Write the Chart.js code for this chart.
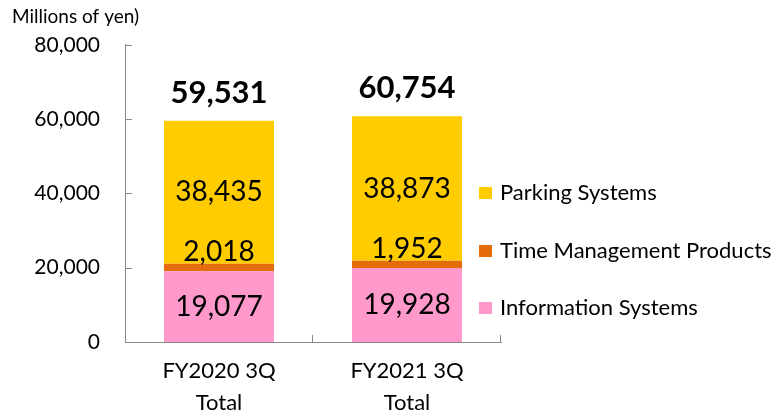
<!DOCTYPE html>
<html>
<head>
<meta charset="utf-8">
<script src="https://cdn.jsdelivr.net/npm/chart.js@4"></script>
<style>
  html, body { margin: 0; padding: 0; background: #fff; }
  #wrap { width: 778px; height: 413px; }
</style>
</head>
<body>
<div id="wrap"><canvas id="chart" width="778" height="413"></canvas></div>
<script>
const categories = [['FY2020 3Q', 'Total'], ['FY2021 3Q', 'Total']];
const infoSystems = [19077, 19928];
const timeProducts = [2018, 1952];
const parkingSystems = [38435, 38873];
const totals = [59531, 60754];
const yTicks = [0, 20000, 40000, 60000, 80000];

const FONT = 'Lato, "Noto Sans", sans-serif';
const fmt = v => v.toLocaleString('en-US');

// value labels, totals, inward tick marks and the legend
const labelPlugin = {
    id: 'labels',
    afterDatasetsDraw(chart) {
        const ctx = chart.ctx;
        ctx.save();
        ctx.fillStyle = '#000';
        ctx.textAlign = 'center';
        chart.data.datasets.forEach((ds, di) => {
            const meta = chart.getDatasetMeta(di);
            meta.data.forEach((bar, i) => {
                ctx.font = '28px ' + FONT;
                if (ds.label === 'Time Management Products') {
                    ctx.textBaseline = 'bottom';
                    ctx.fillText(fmt(ds.data[i]), bar.x, bar.y + 2);
                } else {
                    ctx.textBaseline = 'middle';
                    ctx.fillText(fmt(ds.data[i]), bar.x, (bar.y + bar.base) / 2);
                }
            });
        });
        const topMeta = chart.getDatasetMeta(chart.data.datasets.length - 1);
        ctx.font = 'bold 31px ' + FONT;
        ctx.textBaseline = 'alphabetic';
        topMeta.data.forEach((bar, i) => {
            ctx.fillText(fmt(totals[i]), bar.x, bar.y - 18);
        });

        // tick marks pointing into the plot
        const x = chart.scales.x, y = chart.scales.y;
        ctx.strokeStyle = '#898989';
        ctx.lineWidth = 1;
        ctx.beginPath();
        yTicks.forEach(v => {
            const py = Math.round(y.getPixelForValue(v)) + 0.5;
            ctx.moveTo(x.left, py);
            ctx.lineTo(x.left + 7, py);
        });
        for (let i = 1; i <= categories.length; i++) {
            const px = Math.round(x.left + (x.right - x.left) * i / categories.length) - 0.5;
            ctx.moveTo(px, y.bottom);
            ctx.lineTo(px, y.bottom - 7);
        }
        ctx.stroke();

        // legend, top dataset first
        const rows = [193, 251, 308];
        const sets = chart.data.datasets.slice().reverse();
        ctx.font = '22px ' + FONT;
        ctx.textAlign = 'left';
        ctx.textBaseline = 'middle';
        sets.forEach((ds, i) => {
            ctx.fillStyle = ds.backgroundColor;
            ctx.fillRect(479, rows[i] - 6, 13, 12);
            ctx.fillStyle = '#000';
            ctx.fillText(ds.label, 500, rows[i]);
        });
        ctx.restore();
    }
};

new Chart(document.getElementById('chart'), {
    type: 'bar',
    data: {
        labels: categories,
        datasets: [
            { label: 'Information Systems', data: infoSystems, backgroundColor: '#FF99CC' },
            { label: 'Time Management Products', data: timeProducts, backgroundColor: '#E46C0A' },
            { label: 'Parking Systems', data: parkingSystems, backgroundColor: '#FFCC00' }
        ]
    },
    options: {
        responsive: false,
        animation: false,
        layout: { padding: { left: 12, right: 277, top: 0, bottom: 0 } },
        datasets: {
            bar: { categoryPercentage: 1, barPercentage: 0.585 }
        },
        plugins: {
            legend: { display: false },
            tooltip: { enabled: false },
            title: {
                display: true,
                text: 'Millions of yen)',
                align: 'start',
                color: '#000',
                font: { family: FONT, size: 19, weight: 'normal' },
                padding: { top: 5, bottom: 17 }
            }
        },
        scales: {
            x: {
                stacked: true,
                grid: { display: false },
                border: { color: '#898989', width: 1 },
                ticks: {
                    color: '#000',
                    padding: 5,
                    font: { family: FONT, size: 22, lineHeight: 1.45 }
                },
                afterFit: s => { s.height = 71; }
            },
            y: {
                stacked: true,
                min: 0,
                max: 80000,
                grid: { display: false },
                border: { color: '#898989', width: 1 },
                afterFit: s => { s.width = 113; },
                afterBuildTicks: s => { s.ticks = yTicks.map(v => ({ value: v })); },
                ticks: {
                    color: '#000',
                    padding: 17,
                    font: { family: FONT, size: 21 },
                    callback: v => fmt(v)
                }
            }
        }
    },
    plugins: [labelPlugin]
});
</script>
</body>
</html>
